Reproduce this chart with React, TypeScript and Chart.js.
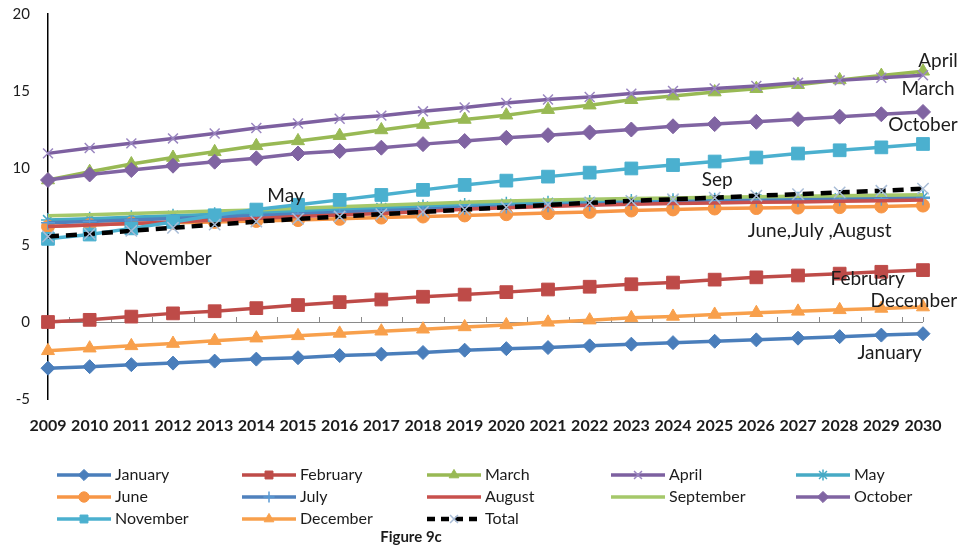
import React, { useEffect, useRef } from 'react';
import { Chart, registerables } from 'chart.js';
import { drawPoint } from 'chart.js/helpers';

Chart.register(...registerables);

const years = ['2009', '2010', '2011', '2012', '2013', '2014', '2015', '2016', '2017', '2018', '2019', '2020', '2021', '2022', '2023', '2024', '2025', '2026', '2027', '2028', '2029', '2030'];

const january = [-3.0, -2.9, -2.77, -2.67, -2.54, -2.41, -2.32, -2.18, -2.09, -1.98, -1.83, -1.73, -1.66, -1.55, -1.44, -1.34, -1.25, -1.16, -1.05, -0.95, -0.85, -0.76];
const february = [0, 0.14, 0.35, 0.56, 0.7, 0.9, 1.1, 1.29, 1.46, 1.64, 1.78, 1.94, 2.11, 2.29, 2.45, 2.56, 2.75, 2.9, 3.02, 3.14, 3.26, 3.37];
const march = [9.22, 9.76, 10.26, 10.68, 11.05, 11.44, 11.76, 12.1, 12.47, 12.82, 13.15, 13.43, 13.79, 14.08, 14.43, 14.67, 14.93, 15.15, 15.41, 15.72, 16.0, 16.28];
const april = [10.95, 11.3, 11.6, 11.92, 12.24, 12.6, 12.89, 13.2, 13.4, 13.68, 13.93, 14.22, 14.45, 14.61, 14.83, 15.0, 15.16, 15.33, 15.53, 15.69, 15.86, 16.02];
const may = [6.62, 6.7, 6.8, 6.9, 7.0, 7.1, 7.2, 7.3, 7.4, 7.5, 7.6, 7.68, 7.75, 7.8, 7.85, 7.9, 7.94, 7.97, 8.0, 8.03, 8.06, 8.1];
const june = [6.2, 6.3, 6.4, 6.45, 6.5, 6.56, 6.62, 6.7, 6.78, 6.85, 6.92, 7.0, 7.07, 7.15, 7.24, 7.31, 7.37, 7.4, 7.43, 7.46, 7.5, 7.56];
const july = [6.45, 6.53, 6.62, 6.72, 6.82, 6.92, 7.02, 7.12, 7.22, 7.32, 7.42, 7.5, 7.58, 7.65, 7.72, 7.78, 7.84, 7.89, 7.93, 7.97, 8.0, 8.04];
const august = [6.2, 6.3, 6.4, 6.5, 6.6, 6.72, 6.85, 6.95, 7.05, 7.18, 7.32, 7.42, 7.5, 7.58, 7.64, 7.69, 7.73, 7.77, 7.8, 7.84, 7.88, 7.92];
const september = [6.9, 6.97, 7.04, 7.12, 7.2, 7.28, 7.38, 7.48, 7.58, 7.68, 7.78, 7.86, 7.92, 7.97, 8.02, 8.06, 8.1, 8.13, 8.16, 8.2, 8.23, 8.27];
const october = [9.22, 9.58, 9.87, 10.15, 10.41, 10.63, 10.94, 11.1, 11.32, 11.55, 11.75, 11.96, 12.13, 12.31, 12.5, 12.71, 12.85, 13.0, 13.17, 13.33, 13.49, 13.64];
const november = [5.4, 5.68, 6.08, 6.5, 6.93, 7.3, 7.61, 7.93, 8.25, 8.58, 8.9, 9.18, 9.44, 9.7, 9.97, 10.19, 10.42, 10.68, 10.94, 11.15, 11.34, 11.56];
const december = [-1.87, -1.7, -1.55, -1.4, -1.21, -1.05, -0.9, -0.74, -0.6, -0.47, -0.32, -0.19, -0.02, 0.12, 0.27, 0.36, 0.49, 0.6, 0.69, 0.79, 0.88, 0.97];
const total = [5.55, 5.72, 5.92, 6.12, 6.32, 6.52, 6.7, 6.85, 7.0, 7.15, 7.3, 7.45, 7.6, 7.74, 7.86, 7.97, 8.07, 8.2, 8.3, 8.42, 8.52, 8.66];

const yTicks = [-5, 0, 5, 10, 15, 20];

// in-plot labels: text, category index (fractional), value
const labelTexts = ['April', 'March', 'October', 'May', 'Sep', 'June,July ,August', 'November', 'February', 'December', 'January'];
const labelAtIndex = [21.36, 21.12, 21.0, 5.7, 16.06, 18.52, 2.88, 19.67, 20.78, 20.2];
const labelAtValue = [16.98, 15.17, 12.78, 8.19, 9.22, 5.93, 4.12, 2.82, 1.34, -2.02];

const FONT = 'Lato, "Open Sans", "DejaVu Sans", sans-serif';

type S = {
  label: string; data: number[]; color: string; pointColor?: string;
  style: any; radius: number; pbw: number; dash?: number[]; width?: number;
};

const series: S[] = [
  { label: 'January', data: january, color: '#4a7ebb', style: 'rectRot', radius: 7, pbw: 1 },
  { label: 'February', data: february, color: '#be4b48', style: 'rect', radius: 9, pbw: 1 },
  { label: 'March', data: march, color: '#98b954', style: 'triangle', radius: 7.5, pbw: 1 },
  { label: 'April', data: april, color: '#7d60a0', pointColor: '#9a86c0', style: 'crossRot', radius: 7, pbw: 1.5 },
  { label: 'May', data: may, color: '#46aac5', style: 'star', radius: 7, pbw: 1.5 },
  { label: 'June', data: june, color: '#f79646', style: 'circle', radius: 6.5, pbw: 1 },
  { label: 'July', data: july, color: '#4f81bd', pointColor: '#5b9bd5', style: 'cross', radius: 7, pbw: 1.5 },
  { label: 'August', data: august, color: '#c8504d', style: 'circle', radius: 0, pbw: 0 },
  { label: 'September', data: september, color: '#a5c86a', style: 'circle', radius: 0, pbw: 0 },
  { label: 'October', data: october, color: '#8064a2', style: 'rectRot', radius: 7.5, pbw: 1 },
  { label: 'November', data: november, color: '#4bb0cf', style: 'rect', radius: 9, pbw: 1 },
  { label: 'December', data: december, color: '#f8a04c', style: 'triangle', radius: 7.5, pbw: 1 },
  { label: 'Total', data: total, color: '#000000', pointColor: '#a8bcd6', style: 'crossRot', radius: 8, pbw: 1.5, dash: [11, 7], width: 4.5 },
];

const overlay = {
  id: 'overlay',
  beforeDatasetsDraw(chart: any) {
    const ctx = chart.ctx;
    const x = chart.scales.x;
    const y = chart.scales.y;
    const y0 = y.getPixelForValue(0);
    ctx.save();
    ctx.strokeStyle = '#8a8a8a';
    ctx.lineWidth = 1;
    ctx.beginPath();
    for (let i = 0; i < years.length; i++) {
      const v = i + 0.5 > years.length - 1 ? years.length - 1 : i + 0.5;
      const px = Math.round(x.getPixelForValue(v)) + 0.5;
      ctx.moveTo(px, y0 - 5); ctx.lineTo(px, y0);
    }
    ctx.stroke();
    ctx.restore();
  },
  afterDatasetsDraw(chart: any) {
    const ctx = chart.ctx;
    const x = chart.scales.x;
    const y = chart.scales.y;
    ctx.save();
    ctx.fillStyle = '#1c1c1c';
    ctx.font = `19px ${FONT}`;
    ctx.textAlign = 'center';
    ctx.textBaseline = 'middle';
    labelTexts.forEach((t, i) => {
      ctx.fillText(t, x.getPixelForValue(labelAtIndex[i]), y.getPixelForValue(labelAtValue[i]));
    });
    ctx.restore();
  },
  afterDraw(chart: any) {
    const ctx = chart.ctx;
    ctx.save();
    const colX = [57, 242, 427, 611, 796];
    const rowY = [475, 497, 519];
    series.forEach((s, i) => {
      const cx = colX[i % 5];
      const cy = rowY[Math.floor(i / 5)];
      ctx.save();
      ctx.strokeStyle = s.color;
      ctx.lineWidth = s.width || 3.5;
      if (s.dash) ctx.setLineDash([8, 6]);
      ctx.beginPath();
      ctx.moveTo(cx, cy);
      ctx.lineTo(cx + 54, cy);
      ctx.stroke();
      ctx.setLineDash([]);
      if (s.radius > 0) {
        ctx.fillStyle = s.pointColor || s.color;
        ctx.strokeStyle = s.pointColor || s.color;
        ctx.lineWidth = s.pbw;
        drawPoint(ctx, { pointStyle: s.style, radius: Math.min(s.radius, 7) * 0.8, rotation: 0, borderWidth: s.pbw }, cx + 27, cy);
      }
      ctx.restore();
      ctx.fillStyle = '#1c1c1c';
      ctx.font = `16px ${FONT}`;
      ctx.textAlign = 'left';
      ctx.textBaseline = 'middle';
      ctx.fillText(s.label, cx + 58, cy);
    });
    ctx.font = `bold 15px ${FONT}`;
    ctx.textAlign = 'center';
    ctx.textBaseline = 'middle';
    ctx.fillStyle = '#1c1c1c';
    ctx.fillText('Figure 9c', 411, 537);
    ctx.restore();
  },
};

export default function App() {
  const ref = useRef<HTMLCanvasElement>(null);
  useEffect(() => {
    if (!ref.current) return;
    const n = series.length;
    const chart = new Chart(ref.current, {
      type: 'line',
      data: {
        labels: years,
        datasets: series.map((s, i) => ({
          label: s.label,
          data: s.data,
          borderColor: s.color,
          backgroundColor: s.color,
          borderWidth: s.width || 3.5,
          borderDash: s.dash || [],
          pointStyle: s.style,
          pointRadius: s.radius,
          pointBackgroundColor: s.pointColor || s.color,
          pointBorderColor: s.pointColor || s.color,
          pointBorderWidth: s.pbw,
          tension: 0,
          fill: false,
          clip: false as any,
          order: n - 1 - i,
        })),
      },
      options: {
        responsive: false,
        animation: false,
        events: [],
        layout: { padding: { left: 0, right: 37, top: 14, bottom: 0 } },
        plugins: { legend: { display: false }, tooltip: { enabled: false }, title: { display: false } },
        scales: {
          x: {
            type: 'category',
            offset: false,
            grid: { display: false, drawTicks: false },
            border: { display: false },
            ticks: {
              color: '#1c1c1c',
              font: { family: FONT, size: 16, weight: 'bold' },
              padding: 17,
              autoSkip: false,
              maxRotation: 0,
            },
            afterFit: (scale: any) => { scale.height = 147; },
          },
          y: {
            min: -5,
            max: 20,
            afterBuildTicks: (scale: any) => { scale.ticks = yTicks.map((v) => ({ value: v })); },
            grid: {
              drawTicks: false,
              color: (c: any) => (c.tick && c.tick.value === 0 ? '#8a8a8a' : 'rgba(0,0,0,0)'),
              lineWidth: 1,
            },
            border: { display: true, color: '#000000', width: 1.5 },
            ticks: {
              color: '#1c1c1c',
              font: { family: FONT, size: 15 },
              padding: 18,
            },
            afterFit: (scale: any) => {
              scale.width = 48;
              scale.paddingTop = 0;
              scale.paddingBottom = 0;
            },
          },
        },
      },
      plugins: [overlay],
    });
    return () => chart.destroy();
  }, []);
  return (
    <div style={{ position: 'absolute', left: 0, top: 0, width: 960, height: 546, background: '#fff' }}>
      <canvas ref={ref} width={960} height={546} style={{ display: 'block' }} />
    </div>
  );
}
